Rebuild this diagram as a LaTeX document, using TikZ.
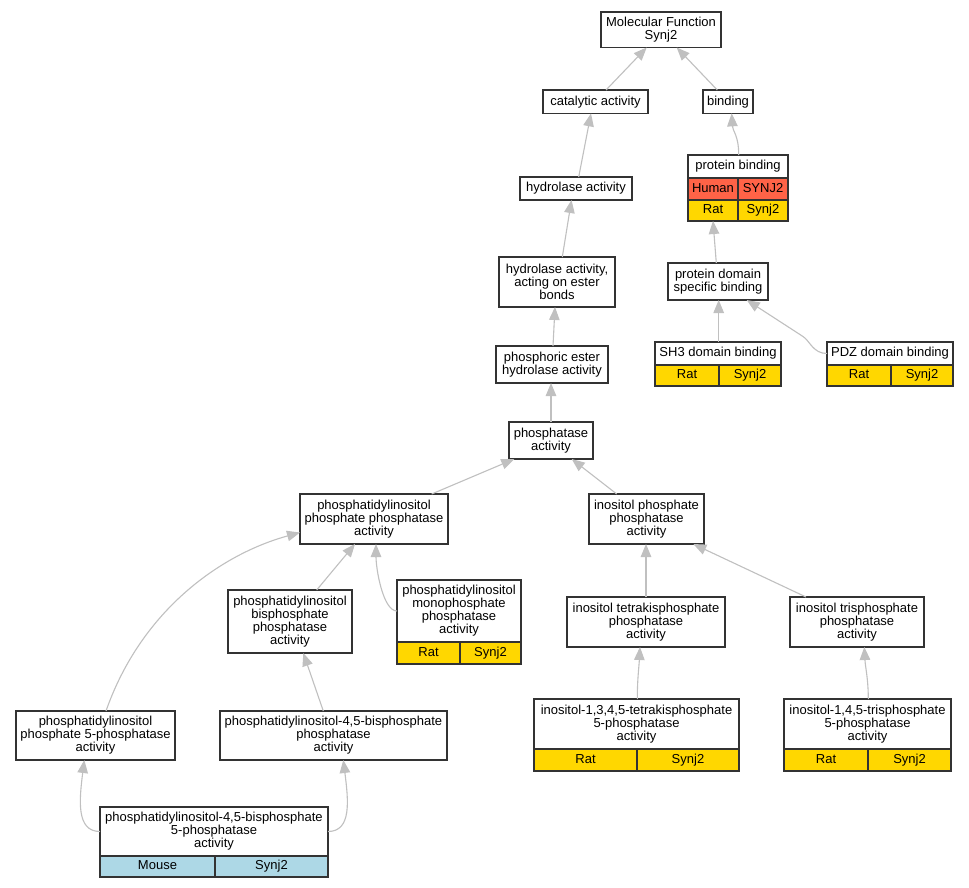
\documentclass[tikz,border=0pt]{standalone}
\usepackage{fontspec}
\setmainfont{Liberation Sans}
\usetikzlibrary{arrows.meta}
\definecolor{gold}{HTML}{FFD700}
\definecolor{tomato}{HTML}{FF6347}
\definecolor{lblue}{HTML}{ADD8E6}
\definecolor{edgegray}{HTML}{C0C0C0}
\definecolor{bordergray}{HTML}{333333}
\newcommand{\nodefont}{\fontsize{13}{13}\selectfont}
\tikzset{
  box/.style={draw=bordergray, line width=1.2pt, fill=white, inner sep=0pt, outer sep=0pt, align=center, font=\nodefont, text=black},
  oneline/.style={text height=9.4pt, text depth=2.7pt},
  cell/.style={box, oneline, anchor=north west},
  edge/.style={draw=edgegray, line width=1.1pt, -{Triangle[length=13pt,width=10.5pt]}}
}
\begin{document}
\begin{tikzpicture}[x=1pt,y=-1pt]
\fill[white] (0,0) rectangle (969,888);
\useasboundingbox (0,0) rectangle (969,888);

% plain nodes
\node[box, minimum width=120pt, minimum height=35.5pt] (mf) at (661,29.75) {Molecular Function\\Synj2};
\node[box, oneline, minimum width=105pt, minimum height=23.3pt] (cat) at (595.5,101.7) {catalytic activity};
\node[box, oneline, minimum width=50pt, minimum height=23.3pt] (bind) at (728,101.7) {binding};
\node[box, oneline, minimum width=112pt, minimum height=23pt] (hyd) at (576,188.5) {hydrolase activity};
\node[box, minimum width=116pt, minimum height=50pt] (hae) at (557,282) {hydrolase activity,\\acting on ester\\bonds};
\node[box, minimum width=100pt, minimum height=37pt] (pds) at (718,281.5) {protein domain\\specific binding};
\node[box, minimum width=112pt, minimum height=37pt] (pe) at (552,364.5) {phosphoric ester\\hydrolase activity};
\node[box, minimum width=84pt, minimum height=37pt] (pa) at (551,440.5) {phosphatase\\activity};
\node[box, minimum width=148pt, minimum height=50pt] (pipp) at (374,519) {phosphatidylinositol\\phosphate phosphatase\\activity};
\node[box, minimum width=115pt, minimum height=50pt] (ipp) at (646.5,519) {inositol phosphate\\phosphatase\\activity};
\node[box, minimum width=158pt, minimum height=50pt] (itk) at (646,622) {inositol tetrakisphosphate\\phosphatase\\activity};
\node[box, minimum width=134pt, minimum height=50pt] (itr) at (857,622) {inositol trisphosphate\\phosphatase\\activity};
\node[box, minimum width=124pt, minimum height=63pt] (pib) at (290,621.5) {phosphatidylinositol\\bisphosphate\\phosphatase\\activity};
\node[box, minimum width=159pt, minimum height=49pt] (pi5) at (95.5,735.5) {phosphatidylinositol\\phosphate 5-phosphatase\\activity};
\node[box, minimum width=227pt, minimum height=49pt] (pibp) at (333.5,735.5) {phosphatidylinositol-4,5-bisphosphate\\phosphatase\\activity};

% record nodes
\node[box, oneline, minimum width=100pt, minimum height=23pt] (pb) at (738,166.5) {protein binding};
\node[cell, fill=tomato, minimum width=50pt, minimum height=22pt] (pbh1) at (pb.south west) {Human};
\node[cell, fill=tomato, minimum width=50pt, minimum height=22pt] (pbh2) at (pbh1.north east) {SYNJ2};
\node[cell, fill=gold, minimum width=50pt, minimum height=21pt] (pbr1) at (pbh1.south west) {Rat};
\node[cell, fill=gold, minimum width=50pt, minimum height=21pt] (pbr2) at (pbr1.north east) {Synj2};

\node[box, oneline, minimum width=126pt, minimum height=23pt] (sh3) at (718,353.5) {SH3 domain binding};
\node[cell, fill=gold, minimum width=64pt, minimum height=21pt] (sh3a) at (sh3.south west) {Rat};
\node[cell, fill=gold, minimum width=62pt, minimum height=21pt] (sh3b) at (sh3a.north east) {Synj2};

\node[box, oneline, minimum width=126pt, minimum height=23pt] (pdz) at (890,353.5) {PDZ domain binding};
\node[cell, fill=gold, minimum width=64pt, minimum height=21pt] (pdza) at (pdz.south west) {Rat};
\node[cell, fill=gold, minimum width=62pt, minimum height=21pt] (pdzb) at (pdza.north east) {Synj2};

\node[box, minimum width=124pt, minimum height=62pt] (pim) at (459,611) {phosphatidylinositol\\monophosphate\\phosphatase\\activity};
\node[cell, fill=gold, minimum width=63pt, minimum height=22pt] (pima) at (pim.south west) {Rat};
\node[cell, fill=gold, minimum width=61pt, minimum height=22pt] (pimb) at (pima.north east) {Synj2};

\node[box, minimum width=228pt, minimum height=49pt] (mouse) at (214,831.5) {phosphatidylinositol-4,5-bisphosphate\\5-phosphatase\\activity};
\node[cell, fill=lblue, minimum width=115pt, minimum height=21pt] (mousea) at (mouse.south west) {Mouse};
\node[cell, fill=lblue, minimum width=113pt, minimum height=21pt] (mouseb) at (mousea.north east) {Synj2};

\node[box, minimum width=205pt, minimum height=50pt] (i1345) at (636.5,724) {inositol-1,3,4,5-tetrakisphosphate\\5-phosphatase\\activity};
\node[cell, fill=gold, minimum width=103pt, minimum height=22pt] (i1345a) at (i1345.south west) {Rat};
\node[cell, fill=gold, minimum width=102pt, minimum height=22pt] (i1345b) at (i1345a.north east) {Synj2};

\node[box, minimum width=167pt, minimum height=50pt] (i145) at (867.5,724) {inositol-1,4,5-trisphosphate\\5-phosphatase\\activity};
\node[cell, fill=gold, minimum width=84pt, minimum height=22pt] (i145a) at (i145.south west) {Rat};
\node[cell, fill=gold, minimum width=83pt, minimum height=22pt] (i145b) at (i145a.north east) {Synj2};

% edges
\draw[edge] ([xshift=10.5pt]cat.north) -- ([xshift=-14.3pt]mf.south);
\draw[edge] ([xshift=-10.7pt]bind.north) -- ([xshift=15.7pt]mf.south);
\draw[edge] ([xshift=2.7pt]hyd.north) -- ([xshift=-4.5pt]cat.south);
\draw[edge] ([xshift=0.7pt]pb.north) .. controls +(0,-20) and +(1,18) .. ([xshift=3.7pt]bind.south);
\draw[edge] ([xshift=5.3pt]hae.north) -- ([xshift=-4.5pt]hyd.south);
\draw[edge] ([xshift=-1.7pt]pds.north) -- (pbr1.south);
\draw[edge] ([xshift=1pt]pe.north) -- ([xshift=-2pt]hae.south);
\draw[edge] ([xshift=0.7pt]sh3.north) -- ([xshift=0.7pt]pds.south);
\draw[edge] (pdz.west) .. controls +(-14,0) and +(7,4.5) .. ([shift={(-24,-17)}]pdz.west) -- ([xshift=28.7pt]pds.south);
\draw[edge] (pa.north) -- (pa.north |- pe.south);
\draw[edge] ([xshift=57.7pt]pipp.north) -- ([xshift=-36.7pt]pa.south);
\draw[edge] ([xshift=-29.8pt]ipp.north) -- ([xshift=20.7pt]pa.south);
\draw[edge] (pim.west) .. controls +(-14,0) and +(0,25) .. ([xshift=2pt]pipp.south);
\draw[edge] ([xshift=26.7pt]pib.north) -- ([xshift=-19pt]pipp.south);
\draw[edge] (itk.north) -- (itk.north |- ipp.south);
\draw[edge] ([xshift=-51pt]itr.north) -- ([xshift=46.8pt]ipp.south);
\draw[edge] ([xshift=10.5pt]pi5.north) .. controls +(35,-100) and +(-80,22) .. ([shift={(0,13.5)}]pipp.west);
\draw[edge] ([xshift=-10.2pt]pibp.north) -- ([xshift=13.3pt]pib.south);
\draw[edge] (mouse.west) .. controls +(-24,0) and +(-5,40) .. ([xshift=-11.2pt]pi5.south);
\draw[edge] (mouse.east) .. controls +(24,0) and +(5,40) .. ([xshift=9.8pt]pibp.south);
\draw[edge] ([xshift=0.8pt]i1345.north) .. controls +(0,-20) and +(-1,20) .. ([xshift=-6pt]itk.south);
\draw[edge] ([xshift=0.8pt]i145.north) .. controls +(0,-20) and +(1,20) .. ([xshift=7.3pt]itr.south);
\end{tikzpicture}
\end{document}
